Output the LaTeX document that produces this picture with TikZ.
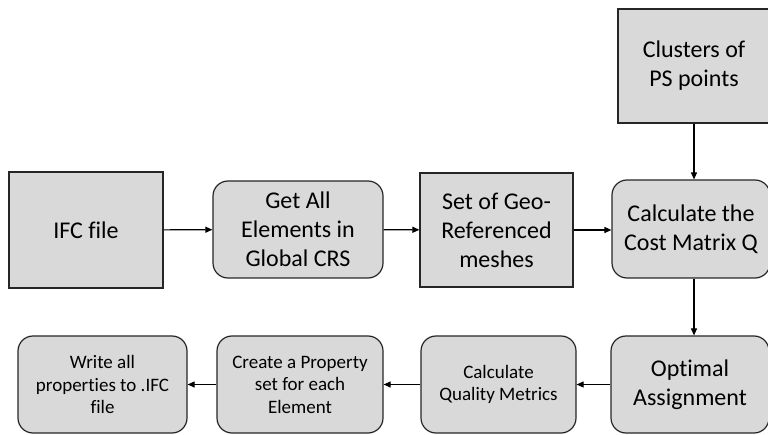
\documentclass[tikz,border=0pt]{standalone}
\usepackage{fontspec}
\setmainfont{Carlito}[Ligatures=NoCommon]
\usetikzlibrary{arrows.meta}
\definecolor{boxgray}{RGB}{217,217,217}
\begin{document}
\begin{tikzpicture}[
        x=1pt, y=-1pt,
        box/.style={draw=black!85, line width=1.2pt, fill=boxgray, align=center, inner sep=0pt},
        rbox/.style={box, rounded corners=15pt},
        big/.style={font=\fontsize{24}{29}\selectfont},
        small/.style={font=\fontsize{19}{22.5}\selectfont},
        arrow/.style={-{Triangle[length=7pt, width=6pt]}, line width=1.1pt}
    ]
        \useasboundingbox (0,0) rectangle (768,435);
        \clip (0,0) rectangle (768,435);

        % top row
        \node[box, big, minimum width=154pt, minimum height=116pt] (ifc) at (86,230) {IFC file};
        \node[rbox, big, minimum width=170pt, minimum height=97pt] (getall) at (298,229.5) {Get All\\Elements in\\Global CRS};
        \node[box, big, minimum width=153pt, minimum height=114pt] (meshes) at (496.5,230) {Set of Geo-\\Referenced\\meshes};
        \node[rbox, big, minimum width=158pt, minimum height=98pt] (cost) at (691,229) {Calculate the\\Cost Matrix Q};
        \node[box, big, minimum width=152pt, minimum height=114pt] (clusters) at (694,66) {Clusters of\\PS points};

        % bottom row
        \node[rbox, big, minimum width=158pt, minimum height=97pt] (optimal) at (690,384.5) {Optimal\\Assignment};
        \node[rbox, small, minimum width=155pt, minimum height=97pt] (quality) at (498.5,384.5) {Calculate\\Quality Metrics};
        \node[rbox, small, minimum width=166pt, minimum height=97pt] (create) at (300,384.5) {Create a Property\\set for each\\Element};
        \node[rbox, small, minimum width=169pt, minimum height=97pt] (write) at (102.5,384.5) {Write all\\properties to .IFC\\file};

        % connectors
        \draw[arrow] (ifc) -- (getall);
        \draw[arrow] (getall) -- (meshes);
        \draw[arrow] (meshes) -- (meshes -| cost.west);
        \draw[arrow] (clusters.south) -- (clusters.south |- cost.north);
        \draw[arrow] (clusters.south |- cost.south) -- (clusters.south |- optimal.north);
        \draw[arrow] (optimal) -- (quality);
        \draw[arrow] (quality) -- (create);
        \draw[arrow] (create) -- (write);
    \end{tikzpicture}
\end{document}
